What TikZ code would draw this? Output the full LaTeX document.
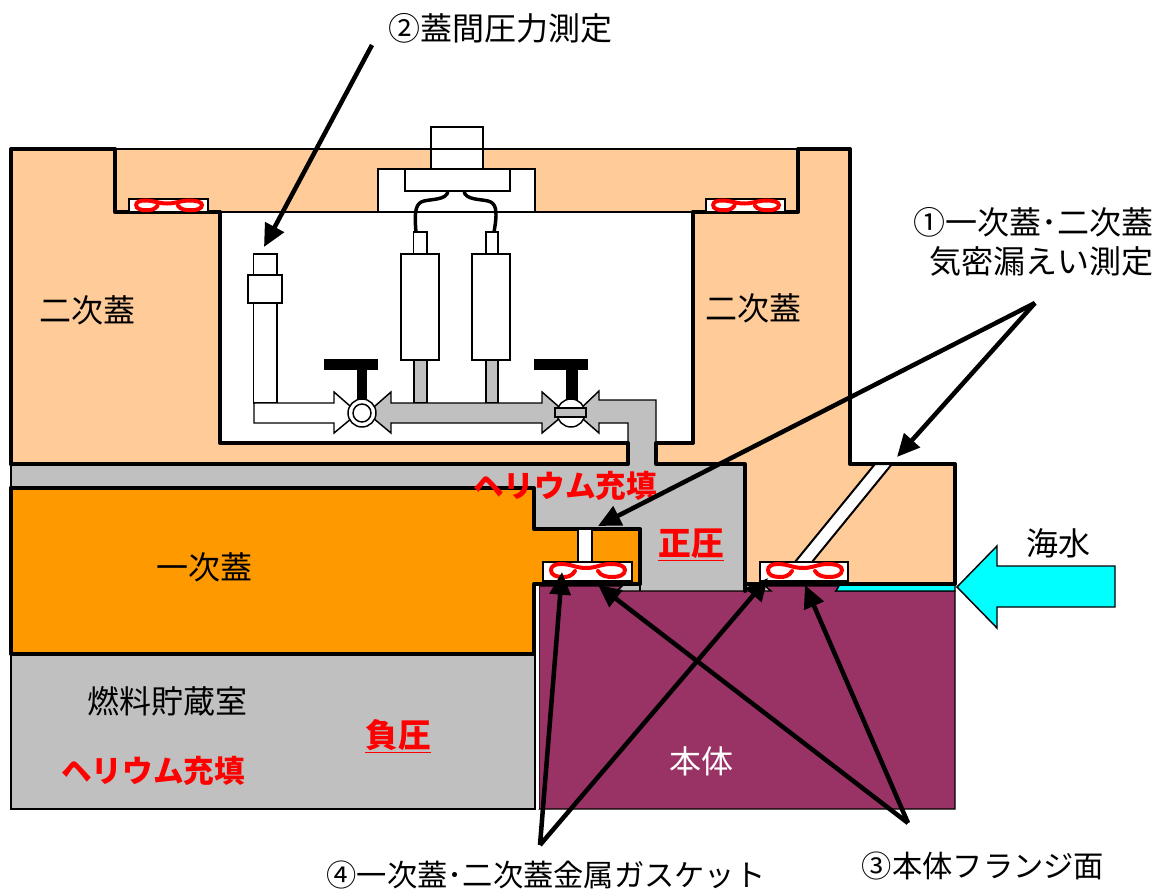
\documentclass[tikz,border=0pt]{standalone}
\usepackage{fontspec}
\setmainfont{Noto Sans CJK JP}
\usetikzlibrary{arrows.meta}
\definecolor{peach}{HTML}{FFCC99}
\definecolor{lidorange}{HTML}{FF9900}
\definecolor{gasgray}{HTML}{C0C0C0}
\definecolor{bodypurple}{HTML}{993366}
\definecolor{sea}{HTML}{00FFFF}
\newcommand{\seal}[4]{% x y xscale yscale
  \draw[sealline,shift={(#1,#2)},xscale=#3,yscale=#4]
    (32,9) .. controls (29,14) and (25,15) .. (20,15)
    .. controls (13,15) and (8,13) .. (8,8)
    .. controls (8,4) and (12,2) .. (18,2)
    .. controls (28,2) and (33,6) .. (43,6)
    .. controls (53,6) and (58,2) .. (68,2)
    .. controls (76,2) and (82,4) .. (82,8)
    .. controls (82,13) and (76,15) .. (70,15)
    .. controls (63,15) and (58,14) .. (55,9);}
\tikzset{
  thin line/.style={line width=1.1pt,draw=black},
  thick line/.style={line width=3pt,draw=black,line cap=round,line join=round},
  gasketbox/.style={line width=1pt,draw=black,fill=white},
  sealline/.style={line width=3pt,draw=red,line cap=round},
  pointer/.style={line width=3.4pt,draw=black,-{Triangle[length=17pt,width=15.5pt]},shorten >=0pt},
  label/.style={inner sep=0pt,font=\fontsize{24pt}{28pt}\selectfont},
  lowlabel/.style={inner sep=0pt,font=\fontsize{22.7pt}{28pt}\selectfont},
  redlabel/.style={inner sep=0pt,text=red,font=\fontsize{23pt}{28pt}\selectfont\bfseries},
  presslabel/.style={inner sep=0pt,text=red,font=\fontsize{24.6pt}{28pt}\selectfont\bfseries},
}
\newcommand{\ul}[1]{\underline{#1}}
\begin{document}
\begin{tikzpicture}[x=0.75pt,y=-0.75pt]
\useasboundingbox (0,0) rectangle (1157,892);
% peach secondary lid
\fill[peach] (11,149) -- (850,149) -- (850,464) -- (955,464) -- (955,584) -- (745,584) -- (745,464) -- (11,464) -- cycle;
% cavity
\fill[white] (220,212) rectangle (693,443);
% gray helium space
\fill[gasgray] (11,464) -- (745,464) -- (745,591) -- (640,591) -- (640,529) -- (534,529) -- (534,488) -- (11,488) -- cycle;
\draw[thin line] (11,464) -- (11,488);
% primary lid
\fill[lidorange] (11,488) -- (534,488) -- (534,529) -- (640,529) -- (640,584) -- (534,584) -- (534,654) -- (11,654) -- cycle;
% fuel room
\draw[thin line,fill=gasgray] (11,654) rectangle (535,809);
% white gap above and beside the body
\fill[white] (534,584) rectangle (640,591);
\fill[white] (746,584) rectangle (836,591);
% gray corners beside the gaskets
\fill[gasgray] (620,584) -- (640,584) -- (640,591) -- (615,591) -- cycle;
\fill[gasgray] (746,584) -- (760,584) -- (770,591) -- (746,591) -- cycle;
% body
\draw[thin line,fill=bodypurple] (539,586) -- (622,586) -- (617,591) -- (771,591) -- (765,586) -- (840,586) -- (836,591) -- (955,591) -- (955,809) -- (539,809) -- cycle;
\fill[white] (535.500,584) rectangle (538.500,809);
\draw[thin line,fill=sea] (836,591) -- (840,584) -- (955,584) -- (955,591) -- cycle;
% thick outlines
\draw[thick line] (11,464) -- (11,149) -- (115,149) -- (115,212) -- (220,212) -- (220,443) -- (628,443) -- (628,464);
\draw[thick line] (693,212) -- (798,212) -- (798,149) -- (850,149) -- (850,464) -- (955,464) -- (955,584) -- (746,584);
\draw[thick line] (656,443) -- (693,443) -- (693,212);
\draw[thick line] (11,464) -- (628,464);
\draw[thick line] (656,464) -- (745,464) -- (745,591);
\draw[thick line] (11,488) -- (534,488) -- (534,529) -- (640,529) -- (640,583);
\draw[thin line] (640,583) -- (640,591);
\draw[thick line] (11,488) -- (11,654) -- (534,654) -- (534,584) -- (640,584);
\draw[thin line] (115,149) -- (798,149);
\draw[thin line] (220,212) -- (693,212);
% leak strip
\draw[thin line,fill=white,line width=1.5pt] (795,562) -- (875,464) -- (892,464) -- (812,562) -- cycle;
% test port strip
\draw[thin line,fill=white] (578,529) rectangle (592,562);
% gaskets
\draw[gasketbox] (129,199) rectangle (208,212);
\draw[gasketbox] (706,199) rectangle (785,212);
\draw[gasketbox] (543,562) rectangle (632,581);
\draw[gasketbox] (760,562) rectangle (848,581);
\seal{129}{199}{0.89}{0.75}
\seal{706}{199}{0.89}{0.75}
\seal{543}{562}{1}{1}
\seal{760}{562}{1}{1}
% head assembly
\draw[thin line,fill=white] (431,127) rectangle (483,169);
\draw[thin line] (425,149) -- (483,149);
\draw[thin line,fill=white] (378,169) rectangle (535,212);
\draw[thin line,fill=white] (405,169) rectangle (510,191);
\draw[line width=2.6pt] (448,191) .. controls (447,200) and (432,199) .. (424,201) .. controls (416,203) and (414,210) .. (416,232);
\draw[line width=2.6pt] (464,191) .. controls (465,200) and (480,199) .. (488,201) .. controls (496,203) and (498,210) .. (494,232);
% sensors
\draw[thin line,fill=white] (413.500,232) rectangle (427,254);
\draw[thin line,fill=white] (486,232) rectangle (498,254);
\draw[thin line,fill=white] (401,254) rectangle (439,360);
\draw[thin line,fill=white] (472,254) rectangle (510,360);
\draw[thin line,fill=gasgray] (414,360) rectangle (427,403);
\draw[thin line,fill=gasgray] (486,360) rectangle (498,403);
% left gauge
\draw[thin line,fill=white] (253.500,254) rectangle (277,275);
\draw[thin line,fill=white] (253.500,303) rectangle (277,403);
\draw[thin line,fill=white] (248,275) rectangle (282,303);
% handles
\fill[black] (324,359) rectangle (378,370);
\fill[black] (357,370) rectangle (367,402);
\fill[black] (534,359) rectangle (588,370);
\fill[black] (566,370) rectangle (578,402);
% pipes with arrow ends
\draw[thin line,fill=white] (254,403) -- (334,403) -- (334,392) -- (358,413) -- (334,433) -- (334,423) -- (254,423) -- cycle;
\draw[thin line,fill=gasgray] (367,413) -- (391,392) -- (391,403) -- (542,403) -- (542,392) -- (566,413) -- (542,433) -- (542,423) -- (391,423) -- (391,433) -- cycle;
\fill[gasgray] (576,413) -- (599,391) -- (599,400) -- (656,400) -- (656,466) -- (628,466) -- (628,423) -- (599,423) -- (599,433) -- cycle;
\draw[thin line] (628,443) -- (628,423) -- (599,423) -- (599,433) -- (576,413) -- (599,391) -- (599,400) -- (656,400) -- (656,443);
\draw[thick line] (628,443) -- (628,464);
\draw[thick line] (656,443) -- (656,464);
% valves
\draw[thin line,fill=white] (362,413) circle (14);
\draw[thin line,fill=white] (362,413) circle (9);
\draw[thin line,fill=white] (571,413) circle (14);
\draw[thin line,fill=gasgray] (555,408) rectangle (586,417);
% sea arrow
\draw[thin line,fill=sea] (957,587) -- (997,546) -- (997,566) -- (1115,566) -- (1115,607) -- (997,607) -- (997,628) -- cycle;
% labels
\node[label] (t2) at (500,28) {②蓋間圧力測定};
\node[label,anchor=east] (t1a) at (1154,222) {①一次蓋･二次蓋};
\node[label,anchor=east] (t1b) at (1154,261) {気密漏えい測定};
\node[label] (lid2l) at (87,310) {二次蓋};
\node[label] (lid2r) at (753,308) {二次蓋};
\node[label] (lid1) at (204,567) {一次蓋};
\node[label] (fuel) at (167,701) {燃料貯蔵室};
\node[label,text=white] (honbody) at (701,761) {本体};
\node[label] (seaw) at (1058,543) {海水};
\node[redlabel] (he1) at (565,486) {ヘリウム充填};
\node[redlabel] (he2) at (153,771) {ヘリウム充填};
\node[presslabel] (pos) at (691,545) {\ul{正圧}};
\node[presslabel] (neg) at (398,736) {\ul{負圧}};
\node[lowlabel] (t4) at (546,875) {④一次蓋･二次蓋金属ガスケット};
\node[lowlabel] (t3) at (983,866) {③本体フランジ面};
% pointers
\coordinate (a2s) at (372,45);
\coordinate (a2e) at (264,247);
\coordinate (a1s) at (1035,303);
\coordinate (a1e) at (598,526);
\coordinate (a1f) at (897,457);
\coordinate (a4s) at (540,845);
\coordinate (a4e) at (562,572);
\coordinate (a4f) at (768,578);
\coordinate (a3s) at (908,823);
\coordinate (a3e) at (598,585);
\coordinate (a3f) at (805,585);
\draw[pointer] (a2s) -- (a2e);
\draw[pointer] (a1s) -- (a1e);
\draw[pointer] (a1s) -- (a1f);
\draw[pointer] (a4s) -- (a4e);
\draw[pointer] (a4s) -- (a4f);
\draw[pointer] (a3s) -- (a3e);
\draw[pointer] (a3s) -- (a3f);
\end{tikzpicture}
\end{document}
